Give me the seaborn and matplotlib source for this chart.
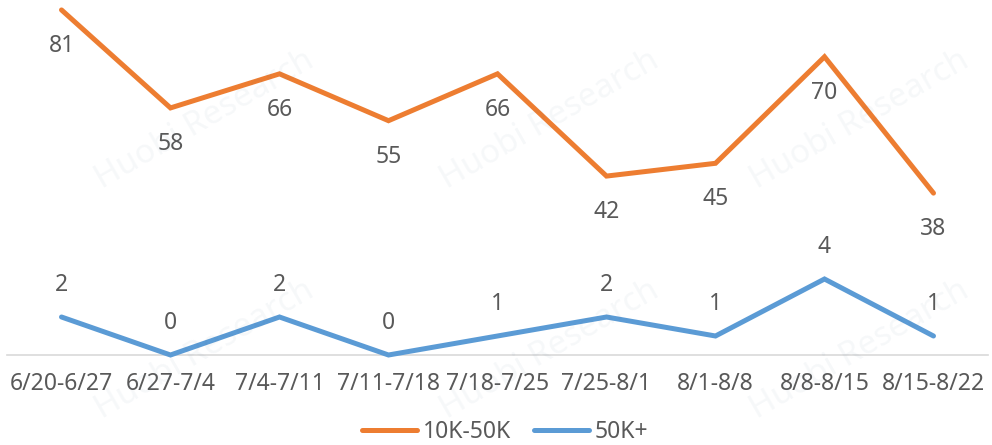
import matplotlib
matplotlib.use("Agg")
import matplotlib.pyplot as plt
import seaborn as sns
import pandas as pd
from matplotlib.lines import Line2D

categories = ["6/20-6/27", "6/27-7/4", "7/4-7/11", "7/11-7/18", "7/18-7/25",
              "7/25-8/1", "8/1-8/8", "8/8-8/15", "8/15-8/22"]
mid_values = [81, 58, 66, 55, 66, 42, 45, 70, 38]
high_values = [2, 0, 2, 0, 1, 2, 1, 4, 1]
series_names = ["10K-50K", "50K+"]

sns.set_theme(style="white")
plt.rcParams['font.family'] = ['Noto Sans', 'DejaVu Sans']

ORANGE = "#ED7D31"
BLUE = "#5B9BD5"
TXT = "#595959"
FS = 16.5

df = pd.DataFrame({"cat": categories, "x": range(len(categories)),
                   "mid": mid_values, "high": high_values})

fig = plt.figure(figsize=(9.92, 4.45), dpi=100)
ax = fig.add_axes([7/992, 90/445, 981/992, 355/445])
ax2 = ax.twinx()

sns.lineplot(data=df, x="x", y="mid", ax=ax, color=ORANGE, linewidth=3.6,
             clip_on=False, solid_joinstyle="miter")
sns.lineplot(data=df, x="x", y="high", ax=ax2, color=BLUE, linewidth=3.6,
             clip_on=False, solid_joinstyle="miter")

ax.set_xlim(-0.5, len(categories) - 0.5)
ax.set_ylim(0, 355 / 4.26)
ax2.set_ylim(0, 355 / 19.0)

for a in (ax, ax2):
    a.set_ylabel("")
    a.set_yticks([])
    for s in a.spines.values():
        s.set_visible(False)
ax.spines["bottom"].set_visible(True)
ax.spines["bottom"].set_color("#D9D9D9")
ax.spines["bottom"].set_linewidth(1.2)

ax.set_xticks(range(len(categories)))
ax.set_xticklabels(categories, fontsize=FS, color=TXT)
ax.tick_params(axis="x", length=0, pad=12)
ax.set_xlabel("")

for i, v in enumerate(mid_values):
    ax.annotate(str(v), (i, v), xytext=(0, -26), textcoords="offset points",
                ha="center", va="center", fontsize=FS, color=TXT)
for i, v in enumerate(high_values):
    ax2.annotate(str(v), (i, v), xytext=(0, 23), textcoords="offset points",
                 ha="center", va="center", fontsize=FS, color=TXT)

# faint watermark
for (wx, wy) in [(205, 120), (550, 120), (860, 120), (205, 350), (550, 350), (860, 350)]:
    fig.text(wx / 992, 1 - wy / 445, "Huobi Research", fontsize=24, color="#4a6d8c",
             alpha=0.05, rotation=30, ha="center", va="center", fontweight="bold")

handles = [Line2D([0], [0], color=ORANGE, lw=3.6),
           Line2D([0], [0], color=BLUE, lw=3.6)]
fig.legend(handles, series_names, loc="center", bbox_to_anchor=(505/992, 1 - 432/445),
           ncol=2, frameon=False, fontsize=FS, labelcolor=TXT, handlelength=2.4,
           handletextpad=0.25, columnspacing=1.0)

fig.savefig("out.png", dpi=100)
